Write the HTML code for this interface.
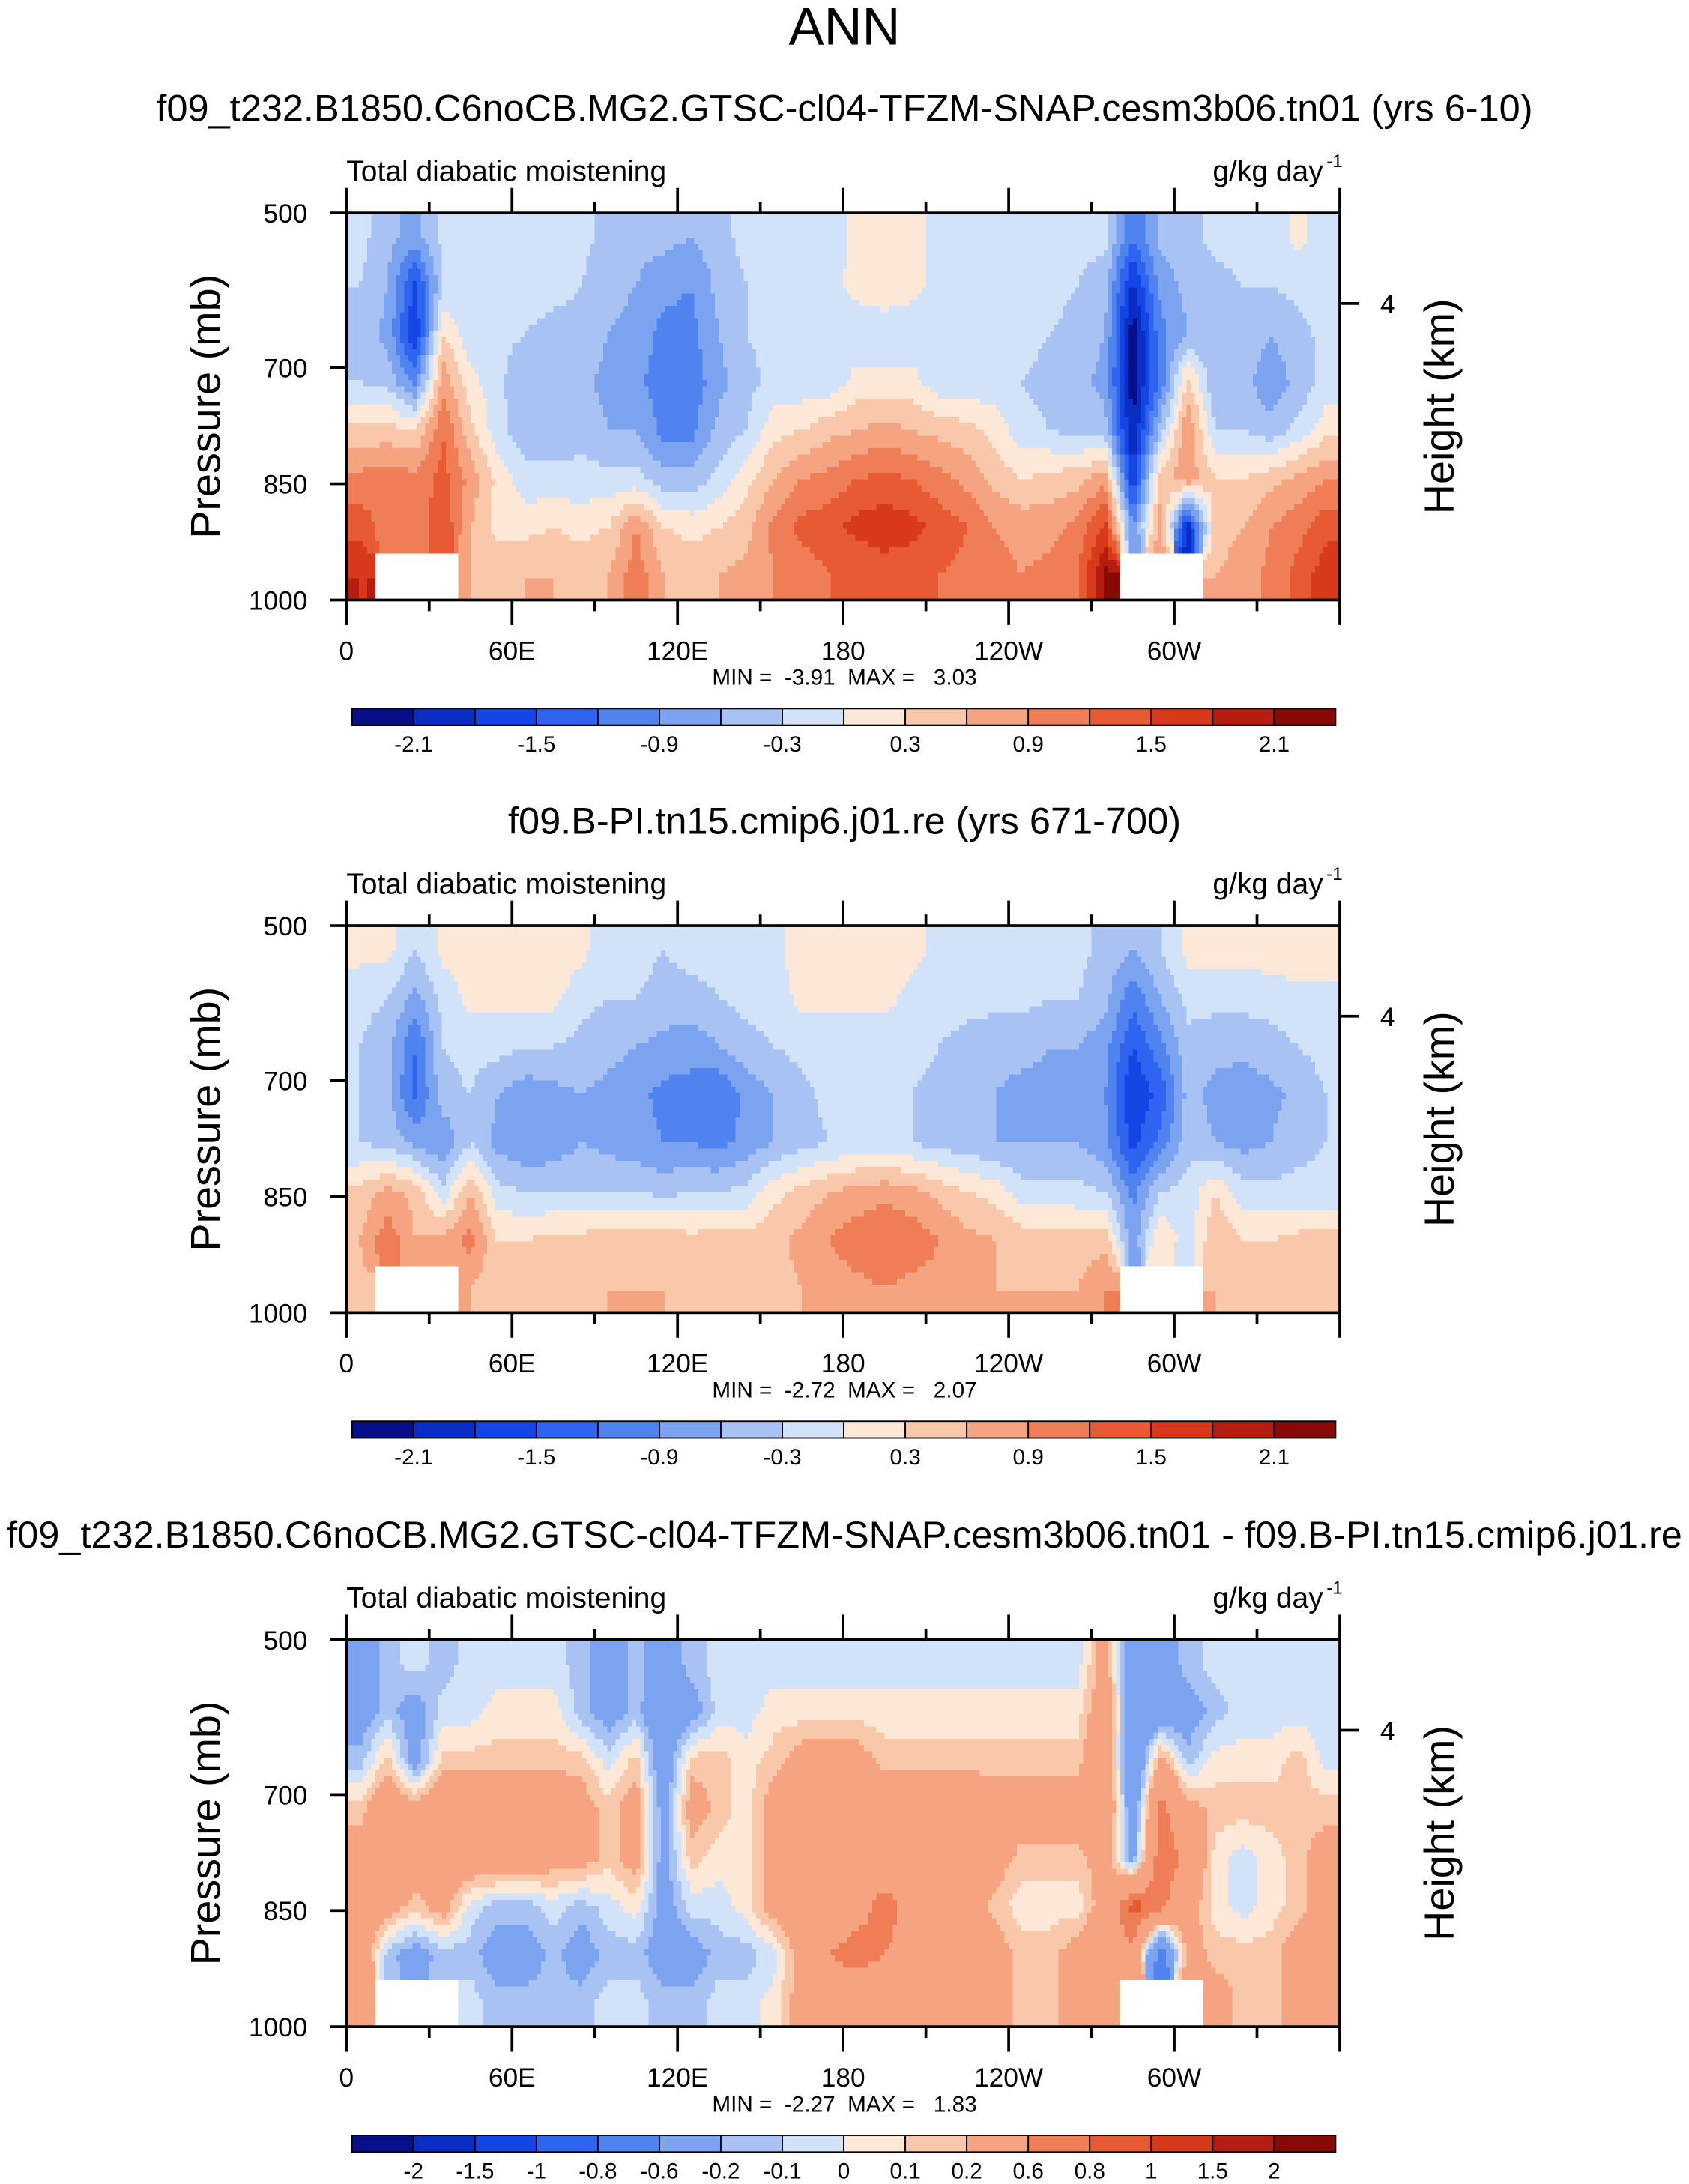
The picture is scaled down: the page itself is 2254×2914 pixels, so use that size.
<!DOCTYPE html>
<html>
<head>
<meta charset="utf-8">
<style>
html,body{margin:0;padding:0;background:#fff;}
svg{display:block;}
text{font-family:"Liberation Sans",sans-serif;fill:#000;}
.pre{white-space:pre;}
</style>
</head>
<body>
<svg id="chart" width="2254" height="2914" viewBox="0 0 1214 1569" preserveAspectRatio="none" xmlns="http://www.w3.org/2000/svg">
<text x="607" y="32" font-size="38" text-anchor="middle">ANN</text>
</svg>
<script>
// ---- data ----
const lonCenters = [5,15,25,35,45,55,65,75,85,95,105,115,125,135,145,155,165,175,185,195,205,215,225,235,245,255,265,275,285,295,305,315,325,335,345,355];
const presEdges = [500,562.5,625,687.5,750,812.5,875,937.5,1000];
const yTickValues = [500,700,850,1000];
const xTickValues = [0,60,120,180,240,300];
const xTickLabels = ["0","60E","120E","180","120W","60W"];
const levelsAB = [-2.1,-1.8,-1.5,-1.2,-0.9,-0.6,-0.3,0,0.3,0.6,0.9,1.2,1.5,1.8,2.1];
const labelsAB = ["-2.1","","-1.5","","-0.9","","-0.3","","0.3","","0.9","","1.5","","2.1"];
const levelsC = [-2,-1.5,-1,-0.8,-0.6,-0.2,-0.1,0,0.1,0.2,0.6,0.8,1,1.5,2];
const labelsC = ["-2","-1.5","-1","-0.8","-0.6","-0.2","-0.1","0","0.1","0.2","0.6","0.8","1","1.5","2"];
const palette = ["#070f8a","#0a2ec4","#1446e6","#2e64f0","#5083ef","#7ca3ef","#a8c3f3","#d2e3f9","#fde8d8","#f9c7aa","#f5a380","#ef7d56","#e85a33","#d8391b","#b51d10","#880a06"];
const titles = ["f09_t232.B1850.C6noCB.MG2.GTSC-cl04-TFZM-SNAP.cesm3b06.tn01 (yrs 6-10)","f09.B-PI.tn15.cmip6.j01.re (yrs 671-700)","f09_t232.B1850.C6noCB.MG2.GTSC-cl04-TFZM-SNAP.cesm3b06.tn01 - f09.B-PI.tn15.cmip6.j01.re"];
const minmax = ["MIN =  -3.91  MAX =   3.03","MIN =  -2.72  MAX =   2.07","MIN =  -2.27  MAX =   1.83"];
const panel1 = [
[-0.2,-0.5,-0.7,-0.2,-0.2,-0.2,-0.2,-0.2,-0.2,-0.4,-0.5,-0.5,-0.6,-0.4,-0.2,-0.2,-0.2,-0.2,0.1,0.1,0.1,-0.1,-0.1,-0.1,-0.1,-0.1,-0.2,-0.2,-1.2,-0.5,-0.4,-0.2,-0.2,-0.2,0.1,-0.2],
[-0.3,-0.6,-1.6,-0.3,-0.2,-0.2,-0.2,-0.2,-0.3,-0.5,-0.6,-0.8,-0.9,-0.5,-0.3,-0.2,-0.2,-0.1,0.1,0.2,0.1,-0.1,-0.1,-0.1,-0.2,-0.2,-0.3,-0.5,-1.9,-0.8,-0.5,-0.4,-0.3,-0.3,-0.2,-0.2],
[-0.4,-0.7,-1.8,0.3,-0.2,-0.2,-0.3,-0.4,-0.4,-0.6,-0.7,-1.0,-1.0,-0.6,-0.3,-0.2,-0.2,-0.2,-0.2,-0.2,-0.2,-0.2,-0.2,-0.2,-0.2,-0.3,-0.4,-0.6,-2.3,-1.0,-0.6,-0.5,-0.4,-0.6,-0.4,-0.2],
[-0.3,-0.4,-1.0,0.8,0.1,-0.2,-0.6,-0.6,-0.5,-0.7,-0.8,-1.1,-1.1,-0.7,-0.4,-0.2,-0.2,-0.2,0.1,0.1,0.1,-0.2,-0.2,-0.2,-0.3,-0.4,-0.5,-0.7,-2.3,-1.1,0.4,-0.6,-0.5,-0.8,-0.5,-0.2],
[0.4,0.4,0.3,1.2,0.4,-0.2,-0.5,-0.5,-0.4,-0.6,-0.6,-1.0,-1.0,-0.5,-0.3,0.2,0.3,0.5,0.6,0.7,0.6,0.5,0.4,0.2,-0.2,-0.3,-0.4,-0.5,-2.1,-0.5,0.9,-0.3,-0.3,-0.5,-0.2,0.2],
[1.0,1.1,1.0,1.3,0.8,0.2,-0.2,-0.2,-0.2,-0.2,-0.2,-0.5,-0.5,-0.2,0.2,0.6,0.9,1.0,1.2,1.3,1.2,1.0,0.8,0.5,0.3,0.4,0.5,0.8,-1.8,0.5,0.8,0.3,0.3,0.5,0.7,0.9],
[1.4,1.0,0.9,1.5,0.6,0.2,0.2,0.3,0.2,0.3,0.9,0.3,0.2,0.3,0.5,1.0,1.3,1.4,1.6,1.7,1.6,1.4,1.2,0.9,0.8,0.8,1.0,1.6,-0.9,0.8,-2.0,0.5,0.6,0.9,1.1,1.4],
[1.8,null,null,null,0.6,0.5,0.6,0.6,0.5,0.6,1.1,0.6,0.5,0.6,0.7,0.9,1.0,1.2,1.2,1.3,1.3,1.2,1.1,1.0,0.9,1.0,1.2,2.2,null,null,null,0.6,0.7,1.0,1.3,1.7]];
const panel2 = [
[0.1,0.1,-0.3,0.1,0.1,0.1,0.2,0.2,0.1,-0.2,-0.2,-0.3,-0.2,-0.2,-0.2,-0.1,0.2,0.2,0.2,0.2,0.1,-0.1,-0.1,-0.1,-0.1,-0.2,-0.2,-0.4,-0.6,-0.3,0.1,0.1,0.1,0.2,0.2,0.2],
[-0.2,-0.3,-0.7,-0.2,0.1,0.1,0.1,0.1,-0.2,-0.3,-0.3,-0.4,-0.4,-0.3,-0.2,-0.2,0.1,0.1,0.1,0.1,-0.1,-0.2,-0.2,-0.2,-0.2,-0.3,-0.3,-0.5,-1.1,-0.6,-0.2,-0.2,-0.2,-0.2,-0.1,-0.1],
[-0.3,-0.5,-1.2,-0.3,-0.2,-0.2,-0.3,-0.3,-0.4,-0.5,-0.6,-0.7,-0.8,-0.6,-0.4,-0.3,-0.2,-0.2,-0.2,-0.2,-0.2,-0.3,-0.4,-0.5,-0.5,-0.6,-0.6,-0.8,-1.5,-1.0,-0.4,-0.5,-0.5,-0.4,-0.3,-0.2],
[-0.3,-0.5,-1.3,-0.4,-0.3,-0.6,-0.8,-0.7,-0.6,-0.7,-0.8,-1.0,-1.0,-1.2,-0.8,-0.6,-0.4,-0.2,-0.2,-0.2,-0.3,-0.4,-0.5,-0.6,-0.7,-0.7,-0.7,-0.9,-1.8,-1.4,-0.5,-0.7,-0.8,-0.7,-0.5,-0.3],
[-0.3,-0.4,-0.7,-0.9,-0.3,-0.7,-0.9,-0.8,-0.6,-0.7,-0.8,-0.9,-0.9,-1.0,-0.8,-0.6,-0.4,-0.3,-0.2,-0.2,-0.3,-0.4,-0.5,-0.6,-0.6,-0.6,-0.6,-0.8,-1.6,-1.1,-0.4,-0.6,-0.7,-0.6,-0.4,-0.3],
[0.4,0.7,0.5,-0.2,0.6,-0.2,-0.3,-0.3,-0.3,-0.3,-0.3,-0.4,-0.3,-0.3,-0.2,0.2,0.4,0.6,0.7,0.8,0.7,0.5,0.3,0.2,-0.2,-0.2,-0.2,-0.3,-1.0,-0.3,-0.2,0.3,-0.2,-0.2,-0.2,-0.2],
[0.6,1.1,0.6,0.7,1.0,0.3,0.3,0.4,0.4,0.5,0.5,0.5,0.4,0.5,0.4,0.5,0.7,0.9,1.1,1.2,1.1,0.9,0.7,0.6,0.5,0.5,0.4,0.5,-0.8,0.3,-0.2,0.6,0.3,0.3,0.4,0.4],
[0.5,null,null,null,0.6,0.4,0.4,0.5,0.5,0.6,0.6,0.6,0.5,0.5,0.4,0.5,0.6,0.7,0.8,0.9,0.8,0.8,0.7,0.6,0.6,0.6,0.6,0.9,null,null,null,0.6,0.4,0.4,0.5,0.5]];
const panel3 = [
[-0.3,-0.15,-0.05,-0.15,-0.05,-0.05,-0.05,-0.05,-0.15,-0.3,-0.15,-0.3,-0.15,-0.05,-0.05,-0.05,-0.05,-0.05,-0.05,-0.05,-0.05,-0.05,-0.05,-0.05,-0.05,-0.05,-0.05,0.3,-0.4,-0.3,-0.15,-0.05,-0.05,-0.05,-0.05,-0.05],
[-0.3,-0.15,-0.3,-0.05,-0.05,0.05,0.05,0.05,-0.15,-0.3,-0.15,-0.4,-0.3,-0.05,-0.05,0.05,0.05,0.05,0.05,0.05,0.05,0.05,0.05,0.05,0.05,0.05,0.05,0.4,-0.4,-0.4,-0.3,-0.15,-0.05,-0.05,-0.05,-0.05],
[-0.15,0.15,-0.3,0.15,0.15,0.15,0.15,0.15,0.15,-0.05,0.15,-0.4,0.15,0.15,0.05,0.15,0.3,0.3,0.3,0.15,0.15,0.15,0.15,0.15,0.15,0.15,0.15,0.5,-0.6,0.3,-0.15,0.05,0.05,0.05,0.15,-0.05],
[0.15,0.4,0.3,0.4,0.4,0.4,0.4,0.4,0.3,0.15,0.3,-0.3,0.3,0.15,0.05,0.3,0.4,0.4,0.4,0.4,0.4,0.4,0.4,0.3,0.3,0.3,0.3,0.5,-0.4,0.7,0.3,0.15,0.15,0.15,0.15,0.15],
[0.3,0.5,0.3,0.4,0.4,0.4,0.4,0.3,0.3,0.15,0.3,-0.3,0.15,0.05,0.05,0.3,0.4,0.4,0.4,0.4,0.4,0.4,0.4,0.3,0.15,0.15,0.15,0.3,-0.3,0.8,0.5,0.05,-0.05,0.05,0.15,0.3],
[0.4,0.3,0.15,0.3,-0.05,-0.15,-0.15,-0.05,-0.15,-0.05,0.05,-0.3,-0.05,-0.05,0.05,0.3,0.4,0.4,0.5,0.7,0.5,0.4,0.3,0.15,0.05,0.05,0.05,0.3,0.9,0.7,0.3,0.05,-0.05,0.05,0.15,0.3],
[0.4,-0.15,-0.3,-0.15,-0.15,-0.3,-0.3,-0.15,-0.3,-0.15,-0.15,-0.3,-0.3,-0.15,-0.15,-0.05,0.3,0.6,0.7,0.6,0.5,0.4,0.3,0.3,0.15,0.15,0.3,0.5,0.5,-0.8,0.3,0.15,0.15,0.15,0.3,0.3],
[0.5,null,null,null,-0.05,-0.15,-0.15,-0.15,-0.15,-0.05,-0.05,-0.15,-0.15,-0.05,-0.05,0.05,0.3,0.4,0.4,0.4,0.3,0.3,0.3,0.3,0.15,0.15,0.3,0.4,null,null,null,0.3,0.15,0.15,0.3,0.3]];

// ---- drawing ----
const NS = "http://www.w3.org/2000/svg";
const svg = document.getElementById("chart");
function mk(tag, attrs, parent){
  const e = document.createElementNS(NS, tag);
  for (const k in attrs) e.setAttribute(k, attrs[k]);
  (parent||svg).appendChild(e);
  return e;
}
function colorFor(v, levels){
  let i = 0;
  while (i < levels.length && v >= levels[i]) i++;
  return palette[i];
}
const PX0 = 249, PX1 = 963, PH = 278;
function xScale(lon){ return PX0 + (lon/360)*(PX1-PX0); }
const rowCenters = presEdges.slice(0,-1).map((p,i)=>(p+presEdges[i+1])/2);

function sample(data, lon, p){
  let ci = Math.min(lonCenters.length-1, Math.max(0, Math.floor(lon/10)));
  let ri = 0; while (ri < rowCenters.length-1 && p >= presEdges[ri+1]) ri++;
  const near = data[ri][ci];
  if (near === null) return null;
  let u = (lon - lonCenters[0]) / 10; u = Math.max(0, Math.min(lonCenters.length-1, u));
  let v;
  if (p <= rowCenters[0]) v = 0;
  else if (p >= rowCenters[rowCenters.length-1]) v = rowCenters.length-1;
  else { let r = 0; while (p > rowCenters[r+1]) r++; v = r + (p-rowCenters[r])/(rowCenters[r+1]-rowCenters[r]); }
  const c0 = Math.floor(u), c1 = Math.min(c0+1, lonCenters.length-1), fu = u-c0;
  const r0 = Math.floor(v), r1 = Math.min(r0+1, rowCenters.length-1), fv = v-r0;
  const g = (r,c) => { const x = data[r][c]; return x === null ? near : x; };
  return (1-fv)*((1-fu)*g(r0,c0)+fu*g(r0,c1)) + fv*((1-fu)*g(r1,c0)+fu*g(r1,c1));
}

function drawPanel(k, top, data, levels, labels){
  const g = mk("g", {});
  
  
  const yScale = p => top + (p-500)/500*PH;
  const st = mk("text", {x:607, y:top-66, "font-size":27.2, "text-anchor":"middle"}, g);
  
  
  st.textContent = titles[k];
  const lt = mk("text", {x:PX0, y:top-23, "font-size":21}, g);
  
  
  lt.textContent = "Total diabatic moistening";
  const ut = mk("text", {x:PX1-12, y:top-23, "font-size":21, "text-anchor":"end"}, g);
  
  
  ut.textContent = "g/kg day";
  const sup = mk("text", {x:PX1+2, y:top-33, "font-size":13, "text-anchor":"end"}, g);
  
  
  sup.textContent = "-1";
  const dl = 1.5, dp = 8;
  for (let p = 500; p < 1000; p += dp){
    let runStart = 0, runColor = null;
    const y0 = yScale(p), y1 = yScale(Math.min(1000, p+dp));
    const flush = (endLon) => {
      if (runColor === null) return;
      const cell = mk("rect", {x:xScale(runStart), y:y0, width:xScale(endLon)-xScale(runStart)+0.5, height:y1-y0+0.5, fill:runColor, "shape-rendering":"crispEdges"}, g);
      
      
    };
    for (let lon = 0; lon < 360; lon += dl){
      const val = sample(data, lon+dl/2, p+dp/2);
      const col = val === null ? "#ffffff" : colorFor(val, levels);
      if (col !== runColor){ flush(lon); runStart = lon; runColor = col; }
    }
    flush(360);
  }
  const frame = mk("rect", {x:PX0, y:top, width:PX1-PX0, height:PH, fill:"none", stroke:"#000", "stroke-width":2}, g);
  
  
  for (let lon = 0; lon <= 360; lon += 30){
    const x = xScale(lon), major = lon % 60 === 0, L = major ? 18 : 8;
    mk("line", {x1:x, y1:top, x2:x, y2:top-L, stroke:"#000", "stroke-width":2}, g);
    mk("line", {x1:x, y1:top+PH, x2:x, y2:top+PH+L, stroke:"#000", "stroke-width":2}, g);
  }
  xTickValues.forEach((lon, i) => {
    const t = mk("text", {x:xScale(lon), y:top+PH+43, "font-size":19, "text-anchor":"middle"}, g);
    
    
    t.textContent = xTickLabels[i];
  });
  yTickValues.forEach(p => {
    const y = yScale(p);
    mk("line", {x1:PX0, y1:y, x2:PX0-12, y2:y, stroke:"#000", "stroke-width":2}, g);
    const t = mk("text", {x:221, y:y+7, "font-size":19, "text-anchor":"end"}, g);
    
    
    t.textContent = p;
  });
  const hy = top + 65;
  mk("line", {x1:PX1, y1:hy, x2:PX1+14, y2:hy, stroke:"#000", "stroke-width":2}, g);
  const h4 = mk("text", {x:992, y:hy+7, "font-size":19}, g);
  
  
  h4.textContent = "4";
  const yl = mk("text", {x:0, y:0, "font-size":30, "text-anchor":"middle", transform:`translate(158,${top+PH/2}) rotate(-90)`}, g);
  
  
  yl.textContent = "Pressure (mb)";
  const yr = mk("text", {x:0, y:0, "font-size":30, "text-anchor":"middle", transform:`translate(1045,${top+PH/2}) rotate(-90)`}, g);
  
  
  yr.textContent = "Height (km)";
  const mm = mk("text", {x:607, y:top+PH+61, "font-size":16, "text-anchor":"middle", "class":"pre"}, g);
  
  
  mm.textContent = minmax[k];
  const cbx0 = 253, cbx1 = 960, cby = top+PH+78, cbh = 12, bw = (cbx1-cbx0)/16;
  const cb = mk("g", {}, g);
  
  
  for (let i = 0; i < 16; i++){
    const b = mk("rect", {x:cbx0+i*bw, y:cby, width:bw, height:cbh, fill:palette[i], stroke:"#000", "stroke-width":1}, cb);
    
    
  }
  labels.forEach((lab, i) => {
    if (!lab) return;
    const t = mk("text", {x:cbx0+(i+1)*bw, y:cby+31, "font-size":16, "text-anchor":"middle"}, cb);
    
    
    t.textContent = lab;
  });
}
drawPanel(0, 153, panel1, levelsAB, labelsAB);
drawPanel(1, 665, panel2, levelsAB, labelsAB);
drawPanel(2, 1178, panel3, levelsC, labelsC);
</script>
</body>
</html>
